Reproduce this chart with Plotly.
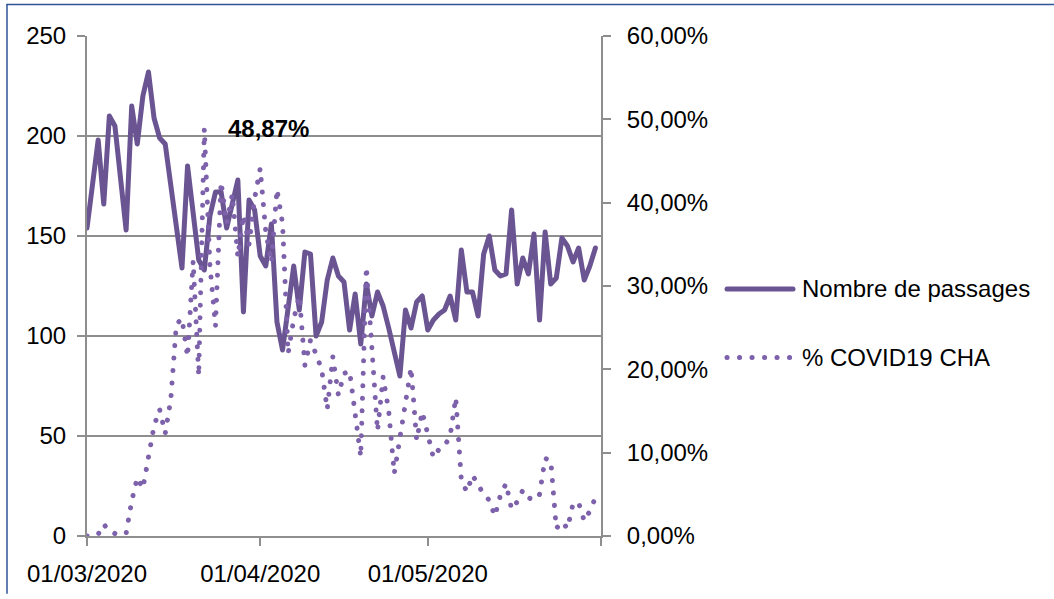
import pandas as pd
import plotly.graph_objects as go

# Daily series, 01/03/2020 -> 31/05/2020
dates = pd.date_range("2020-03-01", "2020-05-31", freq="D")

passages = [
    154, 176, 198, 166, 210, 205, 180, 153, 215, 196,
    220, 232, 209, 199, 196, 175, 155, 134, 185, 160,
    138, 133, 160, 172, 172, 154, 165, 178, 112, 168,
    163, 140, 135, 156, 107, 93, 114, 135, 113, 142,
    141, 100, 107, 128, 139, 130, 127, 103, 121, 96,
    126, 110, 122, 115, 104, 92, 80, 113, 104, 117,
    120, 103, 108, 111, 113, 120, 108, 143, 122, 122,
    110, 141, 150, 133, 130, 131, 163, 126, 139, 131,
    151, 108, 152, 126, 129, 149, 145, 137, 144, 128,
    135, 144,
]

covid_pct = [
    0.0, 0.0, 0.2, 1.4, 0.6, 0.3, 0.2, 0.3, 4.2, 7.0,
    5.7, 9.5, 13.2, 15.2, 12.3, 16.4, 25.4, 26.1, 21.5, 33.0,
    19.2, 48.87, 32.5, 25.2, 42.5, 37.5, 41.0, 33.5, 38.5, 35.0,
    40.5, 44.1, 36.5, 32.8, 41.6, 37.5, 21.9, 26.0, 28.8, 20.5,
    23.5, 21.8, 20.0, 15.2, 21.5, 16.9, 19.5, 19.8, 15.0, 9.5,
    32.3, 22.0, 12.6, 19.1, 15.0, 7.5, 11.8, 16.6, 20.2, 11.5,
    14.9, 12.2, 9.4, 10.4, 10.8, 12.0, 16.6, 6.7, 5.3, 7.3,
    6.1, 5.0, 4.3, 2.4, 4.9, 6.3, 3.2, 4.1, 5.5, 4.6,
    4.3, 5.0, 9.3, 9.1, 0.9, 1.7, 0.9, 3.9, 4.0, 1.8,
    3.0, 4.6,
]

series_names = ["Nombre de passages", "% COVID19 CHA"]
x_tick_dates = ["2020-03-01", "2020-04-01", "2020-05-01", "2020-06-01"]
x_tick_text = ["01/03/2020", "01/04/2020", "01/05/2020", ""]

SOLID = "#6A5592"
DOTS = "#7D61AB"
GREY = "#8E8E8E"
FONT = "Liberation Sans, Arial, sans-serif"
FS = 24
DOT_DASH = "0.1px,12.4px"

covid_frac = [v / 100 for v in covid_pct]
peak_i = max(range(len(covid_pct)), key=lambda i: covid_pct[i])
peak_label = f"{covid_pct[peak_i]:.2f}%".replace(".", ",")

fig = go.Figure()
fig.add_trace(go.Scatter(
    x=dates, y=passages, name=series_names[0], mode="lines",
    line=dict(color=SOLID, width=5), yaxis="y", showlegend=False,
))
fig.add_trace(go.Scatter(
    x=dates, y=covid_frac, name=series_names[1], mode="lines",
    line=dict(color=DOTS, width=5, dash=DOT_DASH), yaxis="y2", showlegend=False,
))

# plot area in pixels
L, R, T, B = 87, 601, 36, 543
W, H = 1054, 599


def px_x(px):
    return (px - L) / (R - L)


def px_y(py):
    return (B - py) / (B - T)


shapes = [
    # outer frame (left and top edges)
    dict(type="line", xref="paper", yref="paper", x0=px_x(7), x1=px_x(7),
         y0=px_y(H + 2), y1=px_y(4), line=dict(color="#2F5597", width=1.5)),
    dict(type="line", xref="paper", yref="paper", x0=px_x(7), x1=px_x(W + 2),
         y0=px_y(4), y1=px_y(4), line=dict(color="#2F5597", width=1.5)),
    # legend samples
    dict(type="line", xref="paper", yref="paper", x0=px_x(727), x1=px_x(793),
         y0=px_y(292.5), y1=px_y(292.5), line=dict(color=SOLID, width=5)),
    dict(type="line", xref="paper", yref="paper", x0=px_x(727), x1=px_x(790),
         y0=px_y(362), y1=px_y(362), line=dict(color=DOTS, width=5, dash=DOT_DASH)),
]

annotations = [
    dict(x=dates[peak_i], y=covid_frac[peak_i], xref="x", yref="y2",
         text=f"<b>{peak_label}</b>", showarrow=False, xanchor="left",
         yanchor="middle", xshift=22, font=dict(size=FS, color="black")),
    dict(x=px_x(800), y=px_y(292.5), xref="paper", yref="paper",
         text=series_names[0], showarrow=False, xanchor="left", yanchor="middle",
         font=dict(size=FS, color="black")),
    dict(x=px_x(800), y=px_y(362), xref="paper", yref="paper",
         text=series_names[1], showarrow=False, xanchor="left", yanchor="middle",
         font=dict(size=FS, color="black")),
]

fig.update_layout(
    width=W, height=H,
    margin=dict(l=L, r=W - R, t=T, b=H - B, pad=0),
    paper_bgcolor="white", plot_bgcolor="white",
    font=dict(family=FONT, size=FS, color="black"),
    separators=", ",
    showlegend=False,
    shapes=shapes,
    annotations=annotations,
    xaxis=dict(
        type="date", range=["2020-03-01", "2020-06-01"],
        tickvals=x_tick_dates, ticktext=x_tick_text,
        ticks="outside", ticklen=8, tickwidth=2, tickcolor=GREY,
        showline=True, linecolor=GREY, linewidth=2,
        showgrid=False, zeroline=False, ticklabelstandoff=7,
    ),
    yaxis=dict(
        range=[0, 250], dtick=50, tick0=0,
        ticks="outside", ticklen=8, tickwidth=2, tickcolor=GREY,
        showline=True, linecolor=GREY, linewidth=2,
        showgrid=True, gridcolor=GREY, gridwidth=2, zeroline=False,
        ticklabelstandoff=6,
    ),
    yaxis2=dict(
        overlaying="y", side="right", range=[0, 0.6], dtick=0.1, tick0=0,
        tickformat=".2%",
        ticks="outside", ticklen=8, tickwidth=2, tickcolor=GREY,
        showline=True, linecolor=GREY, linewidth=2,
        showgrid=False, zeroline=False, ticklabelstandoff=11,
    ),
)

round_caps = """
var st = document.createElement('style');
st.textContent = '.js-line, .shapelayer path { stroke-linecap: round; stroke-linejoin: round; }';
document.head.appendChild(st);
"""

fig.write_html("out.html", post_script=round_caps)
